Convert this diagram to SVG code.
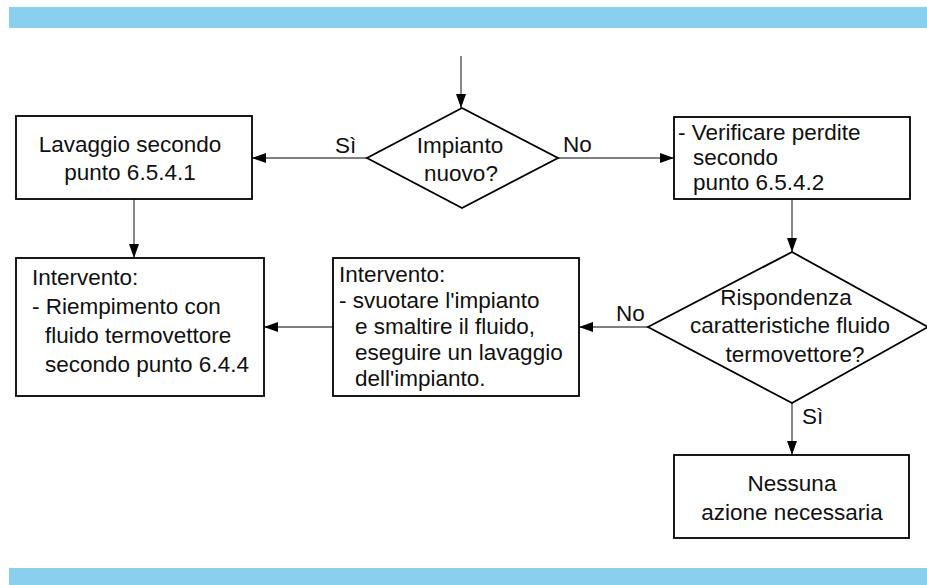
<svg xmlns="http://www.w3.org/2000/svg" width="927" height="585" viewBox="0 0 927 585">
<style>
.bar{fill:#8ad0ee}
.box{fill:#fff;stroke:#000;stroke-width:1.8}
.t{font-family:"Liberation Sans",Arial,sans-serif;font-size:22.5px;fill:#111}
.c{text-anchor:middle}
.lbl{font-family:"Liberation Sans",Arial,sans-serif;font-size:22.5px;fill:#111}
.conn{stroke:#555;stroke-width:1.4;fill:none;marker-end:url(#ah)}
</style>
<defs>
<marker id="ah" markerUnits="userSpaceOnUse" markerWidth="15" markerHeight="10" refX="14" refY="5" orient="auto">
<path d="M0,0 L14,5 L0,10 z" fill="#000"/>
</marker>
</defs>
<rect width="927" height="585" fill="#fff"/>
<rect class="bar" x="9" y="7" width="918" height="21"/>
<rect class="bar" x="9" y="568" width="918" height="17"/>

<g id="connectors">
<line class="conn" x1="461" y1="56" x2="461" y2="108"/>
<line class="conn" x1="367" y1="158" x2="252" y2="158"/>
<line class="conn" x1="558" y1="158" x2="674" y2="158"/>
<line class="conn" x1="134" y1="199" x2="134" y2="258"/>
<line class="conn" x1="792" y1="199" x2="792" y2="252"/>
<line class="conn" x1="648" y1="327" x2="579" y2="327"/>
<line class="conn" x1="333" y1="327" x2="264" y2="327"/>
<line class="conn" x1="792" y1="403" x2="792" y2="455"/>
<text class="lbl" x="335" y="153">Sì</text>
<text class="lbl" x="563" y="152">No</text>
<text class="lbl" x="616" y="321">No</text>
<text class="lbl" x="802" y="424">Sì</text>
</g>

<g id="decision1">
<polygon class="box" points="462,108 558,158 462,208 367,158"/>
<text class="t c" x="460" y="153">Impianto</text>
<text class="t c" x="461" y="181">nuovo?</text>
</g>

<g id="lavaggio">
<rect class="box" x="16" y="116" width="236" height="83"/>
<text class="t c" x="130" y="152">Lavaggio secondo</text>
<text class="t c" x="130" y="180">punto 6.5.4.1</text>
</g>

<g id="verifica">
<rect class="box" x="674" y="117" width="236" height="82"/>
<text class="t" x="678" y="140">- Verificare perdite</text>
<text class="t" x="693" y="165">secondo</text>
<text class="t" x="693" y="190">punto 6.5.4.2</text>
</g>

<g id="riempimento">
<rect class="box" x="16" y="258" width="248" height="138"/>
<text class="t" x="32" y="285">Intervento:</text>
<text class="t" x="32" y="314">- Riempimento con</text>
<text class="t" x="45" y="343">fluido termovettore</text>
<text class="t" x="45" y="372">secondo punto 6.4.4</text>
</g>

<g id="svuotare">
<rect class="box" x="333" y="258" width="246" height="138"/>
<text class="t" x="339" y="282">Intervento:</text>
<text class="t" x="339" y="308">- svuotare l'impianto</text>
<text class="t" x="355" y="334">e smaltire il fluido,</text>
<text class="t" x="355" y="360">eseguire un lavaggio</text>
<text class="t" x="355" y="386">dell'impianto.</text>
</g>

<g id="decision2">
<polygon class="box" points="792,252 928,327 792,403 648,327"/>
<text class="t c" x="786" y="305">Rispondenza</text>
<text class="t c" x="790" y="333">caratteristiche fluido</text>
<text class="t c" x="795" y="362">termovettore?</text>
</g>

<g id="nessuna">
<rect class="box" x="674" y="455" width="235" height="83"/>
<text class="t c" x="792" y="491">Nessuna</text>
<text class="t c" x="792" y="520">azione necessaria</text>
</g>
</svg>
